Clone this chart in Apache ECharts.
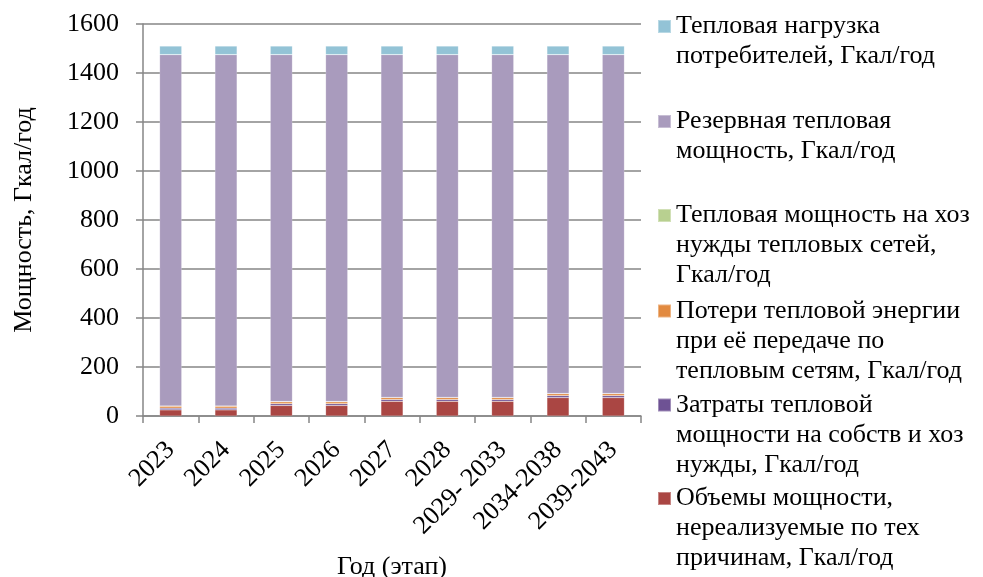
<!DOCTYPE html>
<html><head><meta charset="utf-8">
<script src="https://cdn.jsdelivr.net/npm/echarts@6/dist/echarts.min.js"></script>
<style>html,body{margin:0;padding:0;background:#fff}#c{width:983px;height:577px}</style>
</head><body><div id="c"></div>
<script>
const categories = ['2023','2024','2025','2026','2027','2028','2029- 2033','2034-2038','2039-2043'];
const lossTech   = [25, 25, 43, 43, 60, 60, 60, 75, 75];      // Объемы мощности, нереализуемые...
const ownNeeds   = [7, 7, 7, 7, 7, 7, 7, 8, 8];                 // Затраты тепловой мощности на собств и хоз нужды
const netLosses  = [8, 8, 8, 8, 8, 8, 8, 8, 8];                 // Потери тепловой энергии
const netNeeds   = [1, 1, 1, 1, 1, 1, 1, 1, 1];                 // Тепловая мощность на хоз нужды тепловых сетей
const reserve    = [1434, 1434, 1416, 1416, 1399, 1399, 1399, 1383, 1383]; // Резервная тепловая мощность
const load       = [35, 35, 35, 35, 35, 35, 35, 35, 35];        // Тепловая нагрузка потребителей
const yTicks = {min: 0, max: 1600, interval: 200};

const names = [
  'Тепловая нагрузка\nпотребителей, Гкал/год',
  'Резервная тепловая\nмощность, Гкал/год',
  'Тепловая мощность на хоз\nнужды тепловых сетей,\nГкал/год',
  'Потери тепловой энергии\nпри её передаче по\nтепловым сетям, Гкал/год',
  'Затраты тепловой\nмощности на собств и хоз\nнужды, Гкал/год',
  'Объемы мощности,\nнереализуемые по тех\nпричинам, Гкал/год'
];
const colors = ['#93C3D6','#A99BBD','#B8D090','#E28A40','#6E5294','#AA4643'];
const values = [load, reserve, netNeeds, netLosses, ownNeeds, lossTech];

const FONT = '"Liberation Serif", "Times New Roman", serif';
const FS = 26;
const LH = 30;
const markerCenters = [24.5, 119.5, 213.5, 309, 403, 496.5];

const legends = names.map((n, i) => {
  const lines = n.split('\n').length;
  const H = (2 * lines - 1) * LH;
  return {
    data: [n],
    left: 657,
    top: markerCenters[i] + 2 - H / 2,
    padding: 0,
    itemWidth: 13, itemHeight: 13,
    icon: 'rect',
    selectedMode: false,
    formatter: s => '\n'.repeat(lines - 1) + s,
    textStyle: {fontFamily: FONT, fontSize: FS, color: '#000', lineHeight: LH}
  };
});

// stacking order bottom -> top
const order = [5, 4, 3, 2, 1, 0];
const series = order.map(i => ({
  name: names[i],
  type: 'bar',
  stack: 'total',
  barWidth: '40%',
  data: values[i],
  itemStyle: {color: colors[i], borderColor: 'rgba(255,255,255,0.35)', borderWidth: 0.5},
  emphasis: {disabled: true}
}));

const chart = echarts.init(document.getElementById('c'), null, {renderer: 'canvas'});
chart.setOption({
  animation: false,
  backgroundColor: '#fff',
  legend: legends,
  grid: {left: 143, right: 342, top: 24, bottom: 161, containLabel: false, outerBoundsMode: 'none'},
  xAxis: {
    type: 'category',
    data: categories,
    name: 'Год (этап)',
    nameLocation: 'middle',
    nameGap: 138,
    nameMoveOverlap: false,
    nameTextStyle: {fontFamily: FONT, fontSize: FS, color: '#000'},
    axisLine: {lineStyle: {color: '#868686', width: 1.5}},
    axisTick: {show: true, length: 7, lineStyle: {color: '#868686', width: 1.5}},
    axisLabel: {rotate: 45, margin: 30, fontFamily: FONT, fontSize: FS, color: '#000', interval: 0}
  },
  yAxis: {
    type: 'value',
    min: yTicks.min, max: yTicks.max, interval: yTicks.interval,
    name: 'Мощность, Гкал/год',
    nameLocation: 'middle',
    nameGap: 106,
    nameMoveOverlap: false,
    nameTextStyle: {fontFamily: FONT, fontSize: FS, color: '#000'},
    axisLine: {show: true, lineStyle: {color: '#868686', width: 1.5}},
    axisTick: {show: true, length: 7, lineStyle: {color: '#868686', width: 1.5}},
    axisLabel: {margin: 24, fontFamily: FONT, fontSize: FS, color: '#000', formatter: v => String(v)},
    splitLine: {lineStyle: {color: '#868686', width: 1.5}}
  },
  series: series
});
</script></body></html>
